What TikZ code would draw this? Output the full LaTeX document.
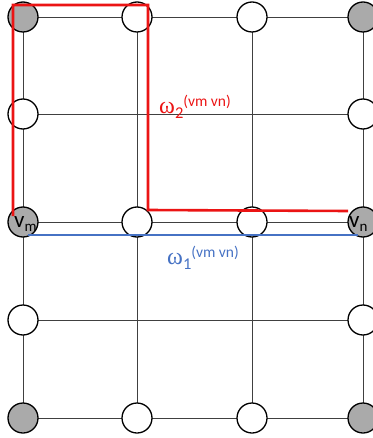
\documentclass[tikz,border=0pt]{standalone}
\usepackage{fontspec}
\setmainfont{Carlito}
\newfontfamily\omegafont{Liberation Serif}
\definecolor{nodegray}{RGB}{170,170,170}
\definecolor{redline}{RGB}{235,20,20}
\definecolor{blueline}{RGB}{70,114,196}
\tikzset{
  site/.style={circle,draw=black,line width=1.3pt,minimum size=30pt,inner sep=0pt,fill=white},
  corner/.style={site,fill=nodegray},
  grid/.style={draw=black!75,line width=0.7pt},
  redpath/.style={draw=redline,line width=2.6pt,line join=miter},
  bluepath/.style={draw=blueline,line width=2pt},
  vlab/.style={inner sep=0pt,anchor=base west,font=\fontsize{23}{23}\selectfont},
  wlab/.style={inner sep=0pt,anchor=base west},
}
\newcommand{\omlab}[1]{{\omegafont\fontsize{24}{24}\selectfont ω}\raisebox{-5pt}{\fontsize{16.5}{16.5}\selectfont #1}\raisebox{7pt}{\fontsize{15.5}{15.5}\selectfont (vm vn)}}
\begin{document}
\begin{tikzpicture}[x=1pt,y=-1pt]
\useasboundingbox (0,0) rectangle (372,438);
% grid lines
\foreach \x in {23,137,252,363} \draw[grid] (\x,17) -- (\x,418);
\foreach \y in {17,114,222,320,418} \draw[grid] (23,\y) -- (363,\y);
% sites
\node[corner] (a11) at (23,17) {};
\node[site] (a12) at (137,17) {};
\node[site] (a13) at (252,17) {};
\node[corner] (a14) at (363,17) {};
\node[site] (a21) at (23,114) {};
\node[site] (a24) at (363,114) {};
\node[corner] (vm) at (23,222) {};
\node[site] (a32) at (137,222) {};
\node[site] (a33) at (252,222) {};
\node[corner] (vn) at (363,222) {};
\node[site] (a41) at (23,320) {};
\node[site] (a44) at (363,320) {};
\node[corner] (a51) at (23,418) {};
\node[site] (a52) at (137,418) {};
\node[site] (a53) at (252,418) {};
\node[corner] (a54) at (363,418) {};
% labels in corner nodes
\node[vlab] (vmlab) at (14,227) {v\raisebox{-4pt}{\fontsize{15}{15}\selectfont m}};
\node[vlab] (vnlab) at (349,227) {v\raisebox{-4pt}{\fontsize{15}{15}\selectfont n}};
% red path
\coordinate (r1) at (13,216);
\coordinate (r2) at (13,5);
\coordinate (r3) at (148,5);
\coordinate (r4) at (148,210);
\coordinate (r5) at (348,211);
\draw[redpath] (r1) -- (r2) -- (r3) -- (r4) -- (r5);
% blue path
\coordinate (b1) at (28,235);
\coordinate (b2) at (358,235);
\draw[bluepath] (b1) -- (b2);
% omega labels
\node[wlab,text=redline] (w2) at (159,114) {\omlab{2}};
\node[wlab,text=blueline] (w1) at (167,264) {\omlab{1}};
\end{tikzpicture}
\end{document}
